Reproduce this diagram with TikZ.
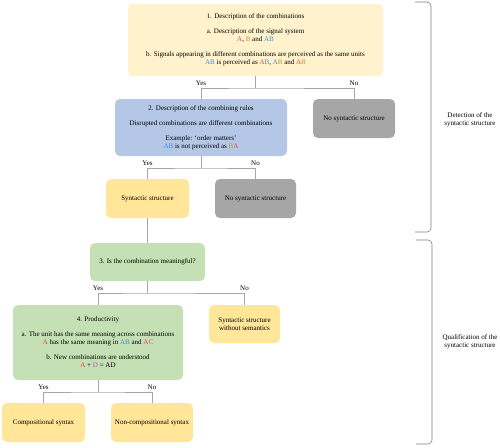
\documentclass[tikz,border=0pt]{standalone}
\usepackage{fontspec}
\setmainfont{Liberation Serif}
\usepackage{xcolor}
\usetikzlibrary{positioning,calc}

\definecolor{cream}{HTML}{FFF2CC}
\definecolor{bluebox}{HTML}{B4C7E7}
\definecolor{greybox}{HTML}{A6A6A6}
\definecolor{yellowbox}{HTML}{FFE699}
\definecolor{greenbox}{HTML}{C5E0B4}
\definecolor{linegrey}{HTML}{A6A6A6}
\definecolor{sred}{HTML}{E8453C}
\definecolor{sblue}{HTML}{3B8FD8}
\definecolor{sgold}{HTML}{BF9030}
\definecolor{spink}{HTML}{E8407A}
\definecolor{sviolet}{HTML}{C040E0}

\begin{document}
\begin{tikzpicture}[x=1pt, y=-1pt,
    box/.style={rectangle, rounded corners=5pt, align=center, inner sep=2pt, font=\fontsize{7}{8}\selectfont},
    conn/.style={draw=linegrey, line width=0.7pt},
    lbl/.style={anchor=south, inner sep=1pt, font=\fontsize{7}{8}\selectfont},
    bracket/.style={draw=gray, line width=0.6pt, rounded corners=4pt}
]
    \useasboundingbox (0,0) rectangle (500,447);

    % Description of the combinations
    \node[box, fill=cream, minimum width=255pt, minimum height=72pt] (combi) at (255.5,40) {1. Description of the combinations\\[7pt]
        a. Description of the signal system\\
        \textcolor{sred}{A}, \textcolor{sgold}{B} and \textcolor{sblue}{AB}\\[7pt]
        b. Signals appearing in different combinations are perceived as the same units\\
        \textcolor{sblue}{AB} is perceived as \textcolor{sred}{A}\textcolor{sblue}{B}, \textcolor{sblue}{A}\textcolor{sgold}{B} and \textcolor{sred}{A}\textcolor{sgold}{B}};

    % Combining rules
    \node[box, fill=bluebox, minimum width=172pt, minimum height=57pt] (rules) at (201,127.5) {2. Description of the combining rules\\[7pt]
        Disrupted combinations are different combinations\\[7pt]
        Example: `order matters'\\
        \textcolor{sblue}{AB} is not perceived as \textcolor{sgold}{B}\textcolor{sred}{A}};
    \node[box, fill=greybox, minimum width=82pt, minimum height=39pt] (nosyn1) at (354,118.5) {No syntactic structure};

    % Syntactic structure
    \node[box, fill=yellowbox, minimum width=83pt, minimum height=39pt] (syn) at (147.5,198.5) {Syntactic structure};
    \node[box, fill=greybox, minimum width=81pt, minimum height=39pt] (nosyn2) at (255.5,198.5) {No syntactic structure};

    % Meaning
    \node[box, fill=greenbox, minimum width=115pt, minimum height=38pt] (meaning) at (147.5,262) {3. Is the combination meaningful?};
    \node[box, fill=yellowbox, minimum width=71pt, minimum height=38pt] (nosem) at (244.5,324) {Syntactic structure\\without semantics};

    % Productivity
    \node[box, fill=greenbox, minimum width=170pt, minimum height=75pt] (prod) at (98,342.5) {4. Productivity\\[7pt]
        a. The unit has the same meaning across combinations\\
        \textcolor{sred}{A} has the same meaning in \textcolor{sblue}{AB} and \textcolor{sred}{A}\textcolor{spink}{C}\\[7pt]
        b. New combinations are understood\\
        \textcolor{sred}{A} + \textcolor{sviolet}{D} = AD};
    \node[box, fill=yellowbox, minimum width=83pt, minimum height=39pt] (comp) at (43.5,422.5) {Compositional syntax};
    \node[box, fill=yellowbox, minimum width=82pt, minimum height=39pt] (noncomp) at (152,422.5) {Non-compositional syntax};

    % Verzweigungen
    \coordinate (j1) at (combi.south |- 0,88);
    \coordinate (j2) at (rules.south |- 0,168);
    \coordinate (j3) at (meaning.south |- 0,293);
    \coordinate (j4) at (prod.south |- 0,392);

    \draw[conn] (combi.south) -- (j1);
    \draw[conn] (rules.north) |- (j1) -| (nosyn1.north);
    \draw[conn] (rules.south) -- (j2);
    \draw[conn] (syn.north) |- (j2) -| (nosyn2.north);
    \draw[conn] (syn.south) -- (meaning.north);
    \draw[conn] (meaning.south) -- (j3);
    \draw[conn] (prod.north) |- (j3) -| (nosem.north);
    \draw[conn] (prod.south) -- (j4);
    \draw[conn] (comp.north) |- (j4) -| (noncomp.north);

    % Yes / No
    \node[lbl] (yes1) at ([yshift=1pt]rules.north |- j1) {Yes};
    \node[lbl] (no1) at ([yshift=1pt]nosyn1.north |- j1) {No};
    \node[lbl] (yes2) at ([yshift=1pt]syn.north |- j2) {Yes};
    \node[lbl] (no2) at ([yshift=1pt]nosyn2.north |- j2) {No};
    \node[lbl] (yes3) at ([yshift=1pt]prod.north |- j3) {Yes};
    \node[lbl] (no3) at ([yshift=1pt]nosem.north |- j3) {No};
    \node[lbl] (yes4) at ([yshift=1pt]comp.north |- j4) {Yes};
    \node[lbl] (no4) at ([yshift=1pt]noncomp.north |- j4) {No};

    % Klammern
    \coordinate (detTop) at (415,2);
    \coordinate (detBot) at (415,232);
    \coordinate (qualTop) at (416,240);
    \coordinate (qualBot) at (416,444);
    \draw[bracket] (detTop) -| (431,232) -- (detBot);
    \draw[bracket] (qualTop) -| (432,444) -- (qualBot);
    \node[box] (detect) at (470,120) {Detection of the\\syntactic structure};
    \node[box] (qualif) at (470,342) {Qualification of the\\syntactic structure};
\end{tikzpicture}
\end{document}
